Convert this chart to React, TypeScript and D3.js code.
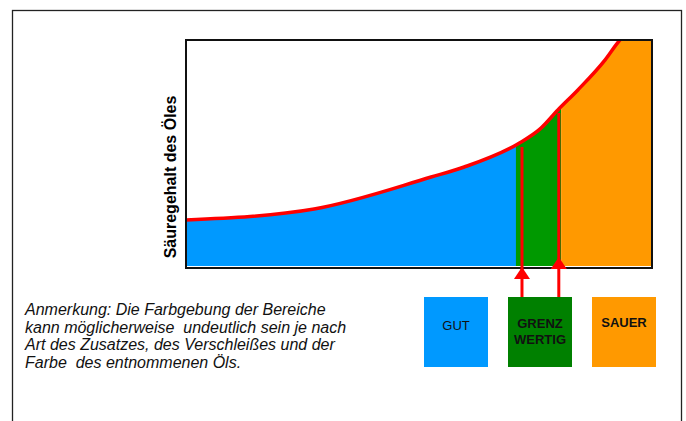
import React from 'react';
import * as d3 from 'd3';

// Säuregehalt curve (x = relative oil age 0..100, y = acidity 0..100)
const curveX = [0, 27.5, 52.6, 59.7, 71.2, 76.0, 79.8, 84.1, 89.9, 93.1, 95];
const curveY = [21.1, 25.9, 39.9, 44.3, 54.4, 61.0, 69.3, 78.1, 91.2, 100, 104];

// zones under the curve
const zoneNames = ['GUT', 'GRENZ WERTIG', 'SAUER'];
const zoneFrom = [0, 70.8, 80.5];
const zoneTo = [70.8, 80.5, 100];
const zoneFill = ['#0099ff', '#009900', '#ff9900'];
const legendFill = ['#0099ff', '#008000', '#ff9900'];
const legendBold = [false, true, true];

// red marker arrows (x position, top of line, arrow tip)
const markerX = [72.1, 80.0];
const markerTop = [53.1, 68.0];
const markerTip = [0.4, 4.8];

const noteLines = [
    'Anmerkung: Die Farbgebung der Bereiche',
    'kann möglicherweise  undeutlich sein je nach',
    'Art des Zusatzes, des Verschleißes und der',
    'Farbe  des entnommenen Öls.',
];

const W = 686;
const H = 421;
const plot = { left: 186, right: 652, top: 40, bottom: 268 };
const legendTop = 297;
const legendBottom = 367;

export default function App() {
    const x = d3.scaleLinear().domain([0, 100]).range([plot.left, plot.right]);
    const y = d3.scaleLinear().domain([0, 100]).range([plot.bottom, plot.top]);

    const pts = curveX.map((v, i) => [v, curveY[i]] as [number, number]);

    const area = d3.area<[number, number]>()
        .x((d) => x(d[0]))
        .y0(plot.bottom - 2)
        .y1((d) => y(d[1]))
        .curve(d3.curveMonotoneX);

    const line = d3.line<[number, number]>()
        .x((d) => x(d[0]))
        .y((d) => y(d[1]))
        .curve(d3.curveMonotoneX);

    const areaPts = [...pts, [100, 200] as [number, number]];

    const legend = d3.scaleBand<string>()
        .domain(zoneNames)
        .range([424, 656])
        .paddingInner(20 / 84)
        .paddingOuter(0);

    const font = 'Arial, "Liberation Sans", Helvetica, sans-serif';

    return (
        <svg
            width={W}
            height={H}
            style={{ position: 'fixed', left: 0, top: 0, background: '#fff' }}
            fontFamily={font}
        >
            <defs>
                <clipPath id="plot-clip">
                    <rect x={plot.left} y={plot.top} width={plot.right - plot.left} height={plot.bottom - plot.top} />
                </clipPath>
                {zoneNames.map((z, i) => (
                    <clipPath key={z} id={`zone-${i}`}>
                        <rect
                            x={x(zoneFrom[i])}
                            y={plot.top}
                            width={x(zoneTo[i]) - x(zoneFrom[i])}
                            height={plot.bottom - plot.top}
                        />
                    </clipPath>
                ))}
            </defs>

            <rect x={12.5} y={10.5} width={669} height={430} fill="none" stroke="#222" strokeWidth={1.3} />

            <g clipPath="url(#plot-clip)">
                {zoneNames.map((z, i) => (
                    <path key={z} d={area(areaPts) ?? ''} fill={zoneFill[i]} clipPath={`url(#zone-${i})`} />
                ))}
                <path d={line(pts) ?? ''} fill="none" stroke="#ff0000" strokeWidth={3.5} />
            </g>

            <rect
                x={plot.left}
                y={plot.top}
                width={plot.right - plot.left}
                height={plot.bottom - plot.top}
                fill="none"
                stroke="#111"
                strokeWidth={2}
            />

            {markerX.map((m, i) => {
                const cx = x(m);
                const tip = y(markerTip[i]);
                return (
                    <g key={`m-${i}`} fill="#ff0000">
                        <line x1={cx} x2={cx} y1={y(markerTop[i])} y2={legendTop + 1} stroke="#ff0000" strokeWidth={3} />
                        <path d={`M${cx},${tip} L${cx + 8},${tip + 12} L${cx - 8},${tip + 12} Z`} />
                    </g>
                );
            })}

            <text
                transform="translate(176,177) rotate(-90)"
                textAnchor="middle"
                fontSize={16}
                fontWeight="bold"
                fill="#000"
            >
                Säuregehalt des Öles
            </text>

            {noteLines.map((t, i) => (
                <text
                    key={`n-${i}`}
                    x={25}
                    y={315 + i * 17.5}
                    fontSize={16}
                    fontStyle="italic"
                    fill="#111"
                    style={{ whiteSpace: 'pre' }}
                >
                    {t}
                </text>
            ))}

            {zoneNames.map((z, i) => {
                const bx = legend(z) ?? 0;
                const cx = bx + legend.bandwidth() / 2;
                const words = z.split(' ');
                return (
                    <g key={`l-${z}`}>
                        <rect x={bx} y={legendTop} width={legend.bandwidth()} height={legendBottom - legendTop} fill={legendFill[i]} />
                        {words.map((w, j) => (
                            <text
                                key={w}
                                x={cx}
                                y={(words.length > 1 ? 328 : legendBold[i] ? 327 : 330) + j * 16}
                                textAnchor="middle"
                                fontSize={13}
                                fontWeight={legendBold[i] ? 'bold' : 'normal'}
                                fill="#111"
                            >
                                {w}
                            </text>
                        ))}
                    </g>
                );
            })}
        </svg>
    );
}
